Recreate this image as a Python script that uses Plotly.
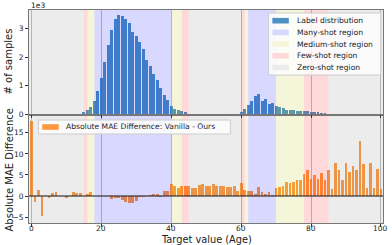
import plotly.graph_objects as go

ages = list(range(101))

counts_k = [0]*15 + [
    0.06, 0.13, 0.26, 0.47, 0.80, 1.25, 1.81, 2.42, 2.95, 3.33,
    3.47, 3.44, 3.32, 3.18, 2.87, 2.74, 2.52, 2.27, 1.89, 1.70,
    1.40, 1.19, 0.90, 0.67, 0.49, 0.27, 0.19, 0.14, 0.11, 0.07,
] + [0]*15 + [
    0.06, 0.16, 0.30, 0.47, 0.63, 0.70, 0.46, 0.53, 0.35, 0.37,
    0.28, 0.23, 0.21, 0.14, 0.13, 0.13, 0.12, 0.12, 0.10, 0.10,
    0.08, 0.07, 0.06, 0.05, 0.05,
] + [0]*16
counts = [c * 1000 for c in counts_k]

mae_diff = [
    17.7, -1.5, 1.5, -4.7, 0.05, -0.4, 0.7, 1.0, 0.05, -0.1,
    -0.5, 0.1, 0.9, 0.7, 0.7, 0.1, 0.6, 0.9, 0.1, 0.1,
    0.05, -0.1, -0.1, -0.6, -0.5, -0.4, -1.0, -1.4, -1.7, -1.7,
    -1.2, -0.3, -0.2, 0.1, 0.3, 0.4, 0.5, -0.3, 1.3, 1.3,
    2.9, 2.3, 1.9, 2.5, 2.5, 2.4, 2.0, 2.0, 2.6, 2.9,
    2.5, 2.3, 2.9, 2.5, 2.4, 2.3, 2.1, 2.1, 2.5, 1.3,
    3.1, 1.5, 1.3, 1.3, 0.4, 2.1, 1.0, 0.6, 0.9, 0.2,
    2.0, 2.1, 2.3, 3.3, 3.1, 3.3, 3.9, 3.7, 5.3, 6.1,
    4.1, 4.9, 4.0, 5.5, 3.9, 6.3, 1.6, 7.9, 6.1, 3.9,
    7.9, 5.6, 7.1, 6.1, 13.0, 7.5, 2.0, 7.9, 2.0, 6.4,
    1.6,
]

x_ticks = [0, 20, 40, 60, 80, 100]
y_ticks_mae = [-5, 0, 5, 10, 15]
y_ticks_count = [0, 1000, 2000, 3000]
y_ticktext_count = ["0", "1", "2", "3"]

XMIN, XMAX = -0.7, 100.6
many_regions = [(18, 40), (62, 70)]
medium_regions = [(16, 18), (40, 43), (61, 62), (70, 78)]
few_regions = [(15, 16), (43, 45), (60, 61), (78, 85)]
zero_regions = [(XMIN, 15), (45, 60), (85, XMAX)]

legend1_labels = ["Label distribution", "Many-shot region", "Medium-shot region",
                  "Few-shot region", "Zero-shot region"]
legend2_labels = ["Absolute MAE Difference: Vanilla - Ours"]

region_styles = [
    (many_regions, "rgb(0,0,255)"),
    (medium_regions, "rgb(191,191,0)"),
    (few_regions, "rgb(255,0,0)"),
    (zero_regions, "rgb(128,128,128)"),
]
legend1_colors = ["rgba(31,119,180,0.8)", "rgb(217,217,255)", "rgb(245,245,217)",
                  "rgb(255,217,217)", "rgb(236,236,236)"]
legend2_colors = ["rgba(255,127,14,0.8)"]

FONT = "DejaVu Sans"
W, H = 392, 245
ML, MR, MT, MB = 28.5, 9.3, 10, 22
PW, PH = W - ML - MR, H - MT - MB


def px(x):
    return (x - ML) / PW


def py(y):
    return (H - MB - y) / PH


fig = go.Figure()
fig.add_trace(go.Bar(
    x=ages, y=counts, width=0.85, name=legend1_labels[0], showlegend=False,
    marker=dict(color=legend1_colors[0], line=dict(width=0)),
    xaxis="x2", yaxis="y2", hoverinfo="skip",
))
fig.add_trace(go.Bar(
    x=ages, y=mae_diff, width=0.8, name=legend2_labels[0], showlegend=False,
    marker=dict(color=legend2_colors[0], line=dict(width=0)),
    xaxis="x", yaxis="y", hoverinfo="skip",
))

shapes = []
for yref, xref in (("y domain", "x"), ("y2 domain", "x2")):
    for regs, col in region_styles:
        for a, b in regs:
            shapes.append(dict(type="rect", xref=xref, yref=yref, x0=a, x1=b, y0=0, y1=1,
                               fillcolor=col, opacity=0.15, line=dict(width=0), layer="above"))
shapes.append(dict(type="line", xref="x", yref="y", x0=XMIN, x1=XMAX, y0=0, y1=0,
                   line=dict(color="rgba(40,40,40,0.75)", width=1.5), layer="above"))

annotations = []
# Legend 1 (manual, matplotlib-like)
shapes.append(dict(type="rect", xref="paper", yref="paper", x0=px(268), x1=px(380.5),
                   y0=py(75), y1=py(13), fillcolor="rgba(255,255,255,0.8)",
                   line=dict(color="#cccccc", width=1), layer="above"))
row_y = [20.7, 32.4, 44.1, 55.8, 67.5]
for lab, col, ry in zip(legend1_labels, legend1_colors, row_y):
    shapes.append(dict(type="rect", xref="paper", yref="paper", x0=px(272), x1=px(288.5),
                       y0=py(ry + 2.8), y1=py(ry - 2.8), fillcolor=col, line=dict(width=0),
                       layer="above"))
    annotations.append(dict(text=lab, xref="paper", yref="paper", x=px(294.5), y=py(ry),
                            xanchor="left", yanchor="middle", showarrow=False,
                            font=dict(family=FONT, size=7.6, color="#222")))
# Legend 2
shapes.append(dict(type="rect", xref="paper", yref="paper", x0=px(38), x1=px(230),
                   y0=py(134), y1=py(120), fillcolor="rgba(255,255,255,0.8)",
                   line=dict(color="#cccccc", width=1), layer="above"))
shapes.append(dict(type="rect", xref="paper", yref="paper", x0=px(41.7), x1=px(58.3),
                   y0=py(129.8), y1=py(124.2), fillcolor=legend2_colors[0], line=dict(width=0),
                   layer="above"))
annotations.append(dict(text=legend2_labels[0], xref="paper", yref="paper", x=px(64),
                        y=py(127), xanchor="left", yanchor="middle", showarrow=False,
                        font=dict(family=FONT, size=7.6, color="#222")))

# x tick labels placed close to the axis
for t in x_ticks:
    annotations.append(dict(text=str(t), xref="x", yref="paper", x=t, y=py(228.6),
                            xanchor="center", yanchor="middle", showarrow=False,
                            font=dict(family=FONT, size=7.5, color="#222")))

# Axis titles and offset text
annotations += [
    dict(text="# of samples", xref="paper", yref="paper", x=px(8), y=py(62), textangle=-90,
         xanchor="center", yanchor="middle", showarrow=False, font=dict(family=FONT, size=10, color="#222")),
    dict(text="Absolute MAE Difference", xref="paper", yref="paper", x=px(8), y=py(170), textangle=-90,
         xanchor="center", yanchor="middle", showarrow=False, font=dict(family=FONT, size=10, color="#222")),
    dict(text="Target value (Age)", xref="paper", yref="paper", x=px(205.6), y=py(239),
         xanchor="center", yanchor="middle", showarrow=False, font=dict(family=FONT, size=9.8, color="#222")),
    dict(text="1e3", xref="paper", yref="paper", x=px(28.5), y=py(5), xanchor="left",
         yanchor="middle", showarrow=False, font=dict(family=FONT, size=7.5, color="#222")),
]

axis_common = dict(showline=True, mirror=True, linecolor="#777", linewidth=1,
                   ticks="outside", ticklen=3, tickcolor="#333", automargin=False,
                   tickfont=dict(family=FONT, size=7.5, color="#222"), zeroline=False)

fig.update_layout(
    width=W, height=H,
    margin=dict(l=ML, r=MR, t=MT, b=MB),
    paper_bgcolor="white", plot_bgcolor="white",
    bargap=0, barmode="overlay", showlegend=False, hovermode=False,
    font=dict(family=FONT, color="#222"),
    shapes=shapes, annotations=annotations,
    xaxis=dict(domain=[0, 1], range=[XMIN, XMAX], anchor="y",
               tickvals=x_ticks, showticklabels=False,
               showgrid=True, gridcolor="#c0c0c0", gridwidth=1, **axis_common),
    yaxis=dict(domain=[0, py(116)], range=[-6.4, 19], anchor="x",
               tickvals=y_ticks_mae, showgrid=False, **axis_common),
    xaxis2=dict(domain=[0, 1], range=[XMIN, XMAX], anchor="y2", matches="x",
                tickvals=x_ticks, showticklabels=False,
                showgrid=True, gridcolor="#c0c0c0", gridwidth=1, **axis_common),
    yaxis2=dict(domain=[py(114), 1], range=[0, 3650], anchor="x2",
                tickvals=y_ticks_count, ticktext=y_ticktext_count, showgrid=False,
                **axis_common),
)

fig.write_html("out.html", config={"displayModeBar": False},
               post_script="document.body.style.margin='0px';")
